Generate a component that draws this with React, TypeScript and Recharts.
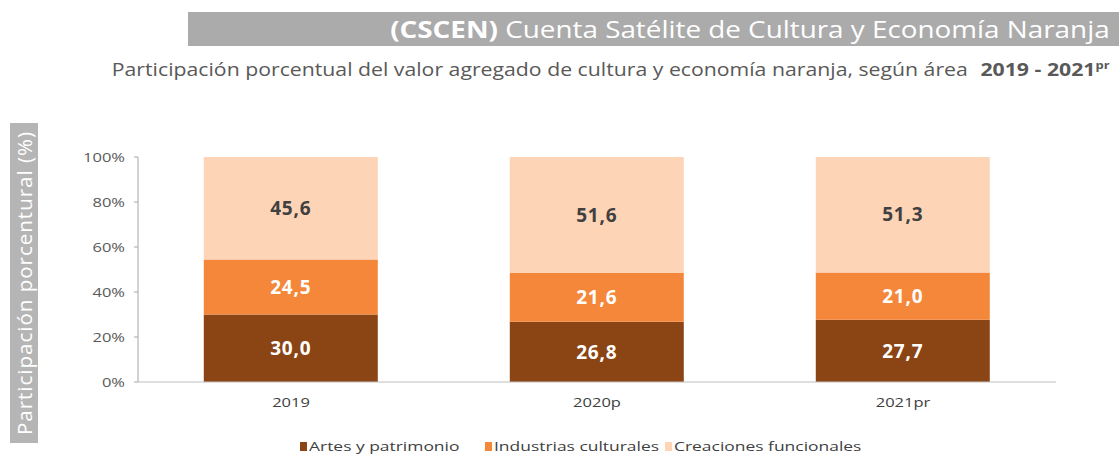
import { BarChart, Bar, XAxis, YAxis, LabelList } from 'recharts';

const years = ['2019', '2020p', '2021pr'];
const artes = [30.0, 26.8, 27.7];
const industrias = [24.5, 21.6, 21.0];
const creaciones = [45.6, 51.6, 51.3];
const yTicks = [0, 20, 40, 60, 80, 100];

const seriesNames = ['Artes y patrimonio', 'Industrias culturales', 'Creaciones funcionales'];
const seriesColors = ['#8B4515', '#F5873A', '#FDD4B6'];
const labelColors = ['#FFFFFF', '#FFFFFF', '#404040'];
const legendX = [300, 485, 665];

const data = years.map((year, i) => ({
  year,
  artes: artes[i],
  industrias: industrias[i],
  creaciones: creaciones[i],
}));

const keys = ['artes', 'industrias', 'creaciones'];

const fmt = (v: number) => v.toFixed(1).replace('.', ',');

// source image is stretched sideways, so widen the text the same way
const SX = 1.27;

const YTick = ({ x, y, payload }: any) => (
  <g transform={`translate(${x},${y})`}>
    <text transform={`scale(${SX},1)`} textAnchor="end" dy="0.35em" fontSize={13} fill="#595959">
      {payload.value}%
    </text>
  </g>
);

const XTick = ({ x, y, payload }: any) => (
  <g transform={`translate(${x},${y})`}>
    <text transform={`scale(${SX},1)`} textAnchor="middle" dy="0.71em" fontSize={13} fill="#404040">
      {payload.value}
    </text>
  </g>
);

export default function App() {
  return (
    <div style={{ position: 'absolute', left: 0, top: 0, width: 1119, height: 457, background: '#fff', fontFamily: '"Open Sans", sans-serif' }}>
      <div style={{ position: 'absolute', left: 188, top: 12, width: 931, height: 34, background: '#ABABAB' }} />
      <div style={{ position: 'absolute', right: 9, top: 12, height: 34, lineHeight: '34px', fontSize: 23, color: '#fff', whiteSpace: 'nowrap', transform: 'scaleX(1.21)', transformOrigin: 'right center' }}>
        <b>(CSCEN)</b> Cuenta Satélite de Cultura y Economía Naranja
      </div>
      <div style={{ position: 'absolute', right: 9, top: 57, fontSize: 18, color: '#595959', whiteSpace: 'nowrap', transform: 'scaleX(1.18)', transformOrigin: 'right center' }}>
        Participación porcentual del valor agregado de cultura y economía naranja, según área{' '}
        <b style={{ marginLeft: 6 }}>2019 - 2021<sup style={{ fontSize: 11 }}>pr</sup></b>
      </div>
      <div style={{ position: 'absolute', left: 10, top: 123, width: 28, height: 320, background: '#B5B5B5' }}>
        <div style={{ position: 'absolute', left: 14, top: 160, transform: 'translate(-50%, -50%) rotate(-90deg)', color: '#fff', fontSize: 20.5, letterSpacing: 1, whiteSpace: 'nowrap' }}>
          Participación porcentural (%)
        </div>
      </div>
      <div style={{ position: 'absolute', left: 0, top: 0 }}>
        <BarChart
          width={1119}
          height={457}
          data={data}
          margin={{ top: 157, right: 63, bottom: 45, left: 78 }}
          barCategoryGap="21.5%"
        >
          <XAxis
            dataKey="year"
            tickLine={false}
            axisLine={{ stroke: '#BFBFBF' }}
            tick={<XTick />}
            tickMargin={10}
            height={30}
          />
          <YAxis
            domain={[0, 100]}
            ticks={yTicks}
            allowDataOverflow
            axisLine={{ stroke: '#A6A6A6' }}
            tickLine={{ stroke: '#A6A6A6' }}
            tickSize={4}
            tickMargin={9}
            tick={<YTick />}
            width={60}
          />
          {keys.map((k, i) => (
            <Bar key={k} dataKey={k} stackId="a" fill={seriesColors[i]} isAnimationActive={false}>
              <LabelList
                dataKey={k}
                position="center"
                formatter={(v: number) => fmt(v)}
                fill={labelColors[i]}
                fontSize={19}
                fontWeight="bold"
                letterSpacing={0.8}
              />
            </Bar>
          ))}
        </BarChart>
      </div>
      {seriesNames.map((n, i) => (
        <div key={n} style={{ position: 'absolute', left: legendX[i], top: 437, height: 18, display: 'flex', alignItems: 'center', fontSize: 13, color: '#404040', whiteSpace: 'nowrap' }}>
          <span style={{ display: 'inline-block', width: 7, height: 9, background: seriesColors[i], marginRight: 2 }} />
          <span style={{ display: 'inline-block', transform: 'scaleX(1.34)', transformOrigin: 'left center' }}>{n}</span>
        </div>
      ))}
    </div>
  );
}
